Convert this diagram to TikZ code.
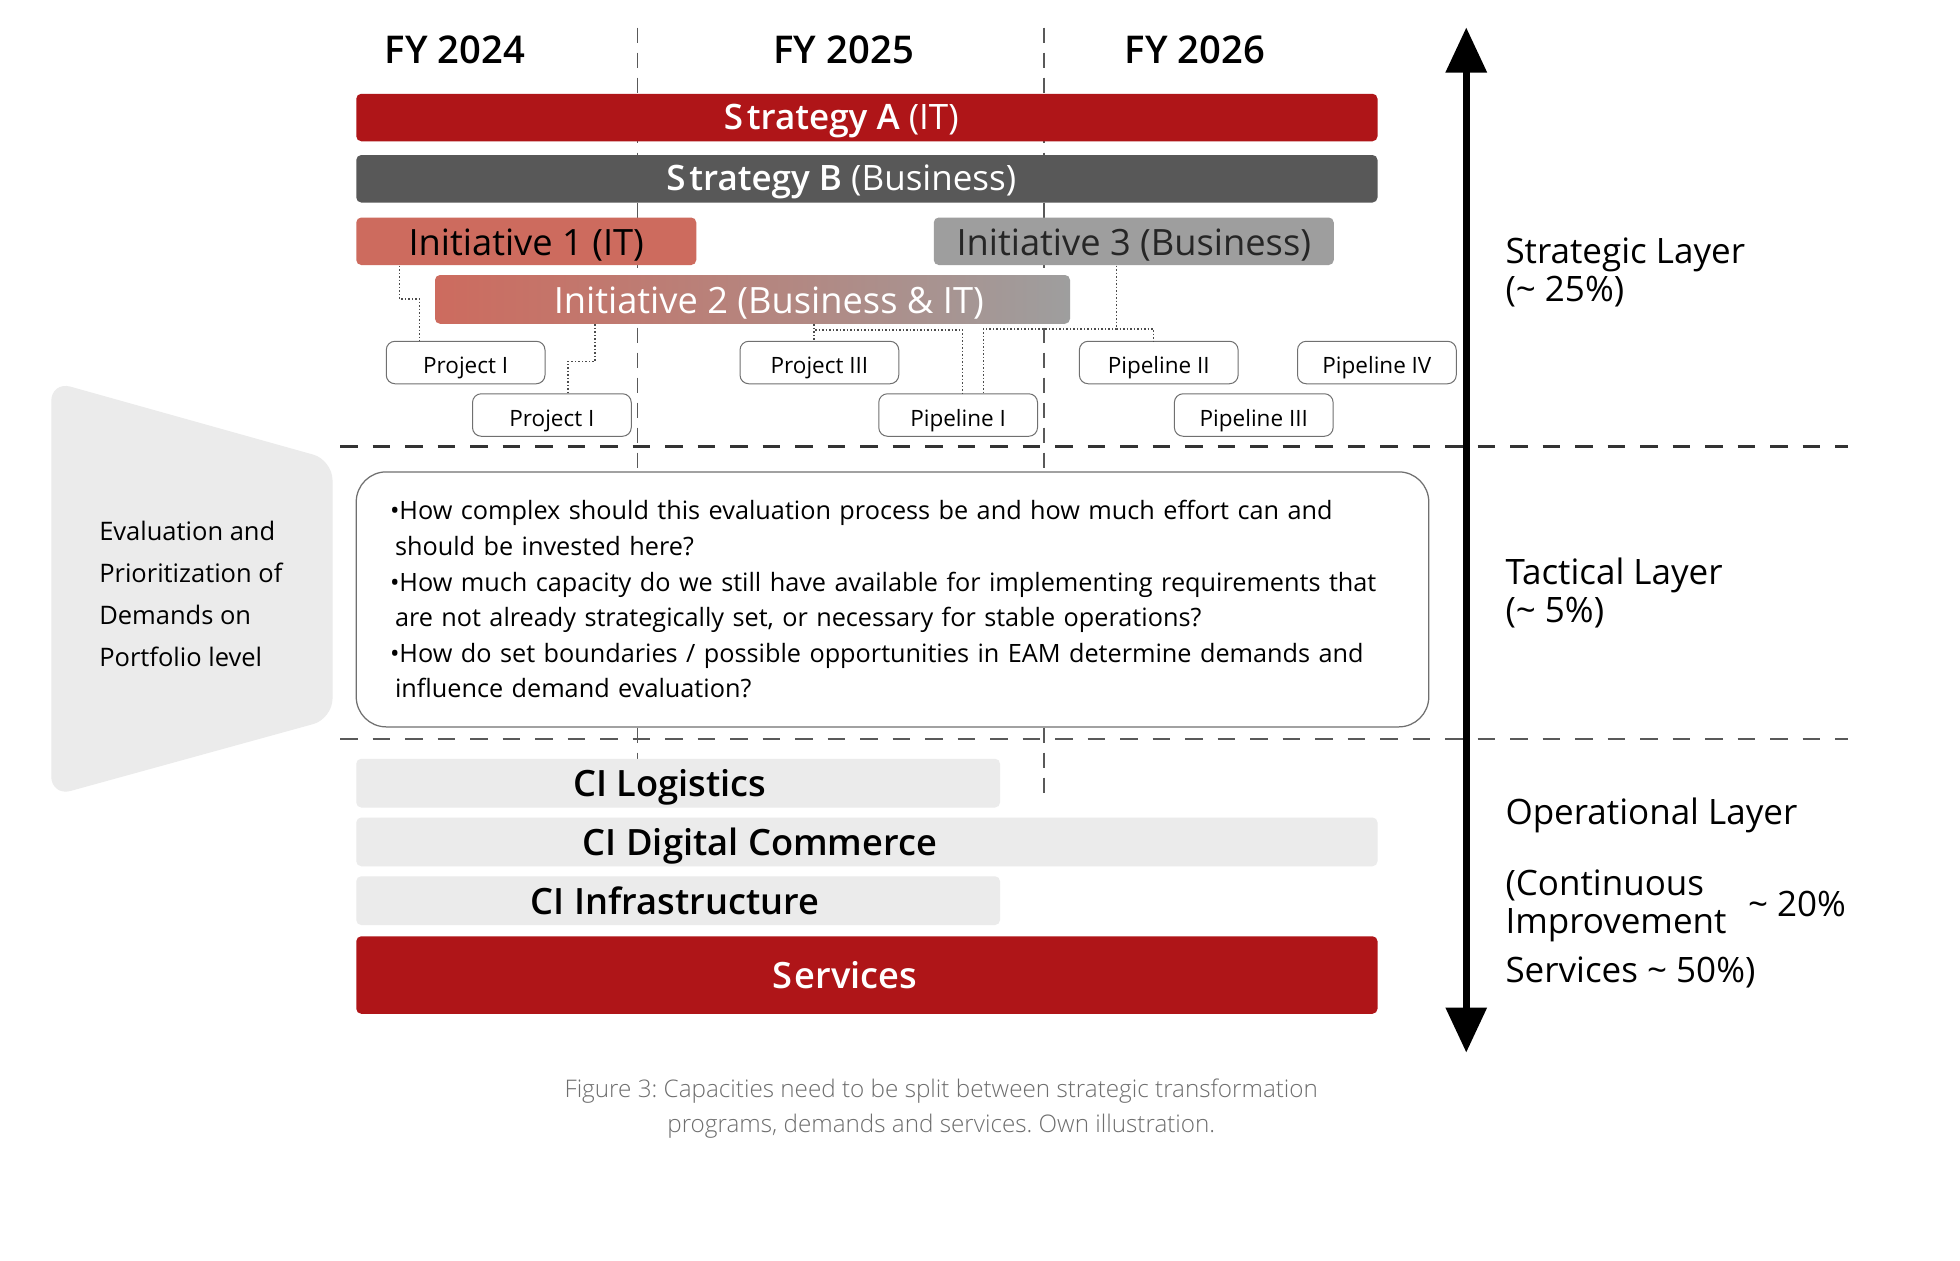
\documentclass[tikz,border=0pt]{standalone}
\usepackage{fontspec}
\setmainfont{Open Sans}
\IfFontExistsTF{Open Sans SemiBold}{\newfontfamily\sembf{Open Sans SemiBold}}{%
  \IfFontExistsTF{Open Sans Semibold}{\newfontfamily\sembf{Open Sans Semibold}}{\newcommand\sembf{\bfseries}}}
\IfFontExistsTF{Open Sans Light}{\newfontfamily\lightf{Open Sans Light}}{\newcommand\lightf{}}
\usetikzlibrary{arrows.meta}
\frenchspacing
\definecolor{redbar}{HTML}{AF1518}
\definecolor{darkbar}{HTML}{585858}
\definecolor{initred}{HTML}{CD6B5E}
\definecolor{initgray}{HTML}{9E9E9E}
\definecolor{lightbar}{HTML}{EBEBEB}
\definecolor{boxline}{HTML}{707070}
\definecolor{capgray}{HTML}{6E6E6E}
\begin{document}
\begin{tikzpicture}[x=0.5pt,y=-0.5pt,
  bar/.style={rectangle, rounded corners=2pt, inner sep=0pt},
  bartext/.style={anchor=base, inner sep=0pt, font=\fontsize{14}{16}\selectfont},
  inittext/.style={anchor=base, inner sep=0pt, font=\fontsize{14.5}{16}\selectfont},
  citext/.style={anchor=base, inner sep=0pt, font=\fontsize{14.5}{16}\selectfont\sembf},
  projbox/.style={rectangle, rounded corners=3.5pt, draw=boxline, line width=0.4pt, fill=white,
     minimum width=63.5pt, minimum height=17pt, inner sep=0pt, text height=11pt, text depth=2.2pt,
     font=\fontsize{9}{11}\selectfont},
  conn/.style={draw=black!70, line width=0.6pt, dash pattern=on 0.6pt off 0.8pt},
  fylabel/.style={font=\fontsize{15.3}{17}\selectfont\sembf, inner sep=0pt},
  vdash/.style={draw=black!65, line width=0.6pt, dash pattern=on 6pt off 4pt},
  layertext/.style={anchor=west, align=left, inner sep=0pt, font=\fontsize{14}{15}\selectfont},
]
\useasboundingbox (0,0) rectangle (1568,1008);
\fill[white] (0,0) rectangle (1568,1008);

% vertical year separators
\coordinate (v1t) at (510,22); \coordinate (v1b) at (510,640);
\coordinate (v2t) at (835,22); \coordinate (v2b) at (835,640);
\draw[vdash] (v1t) -- (v1b);
\draw[vdash] (v2t) -- (v2b);

% horizontal layer separators
\coordinate (h1l) at (272,357); \coordinate (h1r) at (1478,357);
\coordinate (h2l) at (272,591); \coordinate (h2r) at (1478,591);
\draw[black!80, line width=1pt, dash pattern=on 7pt off 6pt] (h1l) -- (h1r);
\draw[black!65, line width=0.6pt, dash pattern=on 7pt off 6pt] (h2l) -- (h2r);

% years
\node[fylabel] (fy24) at (364,40) {FY 2024};
\node[fylabel] (fy25) at (675,40) {FY 2025};
\node[fylabel] (fy26) at (956,40) {FY 2026};

% strategies
\node[bar, fill=redbar, minimum width=408.5pt, minimum height=19pt] (sa) at (693.5,94) {};
\node[bartext, text=white] (saT) at (673,103.5) {{\sembf S\kern1.5pt trategy A} (IT)};
\node[bar, fill=darkbar, minimum width=408.5pt, minimum height=19pt] (sb) at (693.5,143) {};
\node[bartext, text=white] (sbT) at (673,152.5) {{\sembf S\kern1.5pt trategy B} (Business)};

% initiatives
\node[bar, fill=initred, minimum width=136pt, minimum height=19pt] (i1) at (421,193) {};
\node[inittext] (i1T) at (421,204) {Initiative 1 (IT)};
\node[bar, fill=initgray, minimum width=160pt, minimum height=19pt] (i3) at (907,193) {};
\node[inittext, text=black!85] (i3T) at (907,204) {Initiative 3 (Business)};
\node[bar, left color=initred, right color=initgray, minimum width=254pt, minimum height=19.5pt] (i2) at (602,239.5) {};
\node[inittext, text=white] (i2T) at (615,251) {Initiative 2 (Business \& IT)};

% projects / pipelines
\node[projbox] (p1) at (372.5,290) {Project I};
\node[projbox] (p2) at (441.5,332) {Project I};
\node[projbox] (p3) at (655.5,290) {Project III};
\node[projbox] (pl1) at (766.5,332) {Pipeline I};
\node[projbox] (pl2) at (927,290) {Pipeline II};
\node[projbox] (pl4) at (1101.5,290) {Pipeline IV};
\node[projbox] (pl3) at (1003,332) {Pipeline III};

% dotted connectors
\draw[conn] (319.7,0 |- i1.south) |- (335.6,239) -- (335.6,0 |- p1.north);
\draw[conn] (476,0 |- i2.south) |- (454.5,289) -- (454.5,0 |- p2.north);
\draw[conn] (651,0 |- i2.south) -- (651,0 |- p3.north);
\draw[conn] (651,0 |- i2.south) |- (770,264) -- (770,0 |- pl1.north);
\draw[conn] (893,0 |- i3.south) |- (922.6,263) -- (922.6,0 |- pl2.north);
\draw[conn] (893,0 |- i3.south) |- (786.7,263) -- (786.7,0 |- pl1.north);

% evaluation trapezoid
\fill[lightbar, rounded corners=8pt] (41,305) -- (266,368) -- (266,575) -- (41,637) -- cycle;
\node[anchor=west, align=left, inner sep=0pt, font=\fontsize{10.2}{16.8}\selectfont] (eval) at (79,475.5)
  {Evaluation and\\Prioritization of\\Demands on\\Portfolio level};

% tactical box
\node[rectangle, rounded corners=12pt, draw=boxline, line width=0.5pt, fill=white,
  minimum width=429pt, minimum height=102pt, text width=402pt, align=left, inner sep=0pt,
  font=\fontsize{10.1}{14.25}\selectfont] (tac) at (714,479.5)
  {\textbullet How complex should this evaluation process be and how much effort can and\\
   \hspace*{2pt}should be invested here?\\
   \textbullet How much capacity do we still have available for implementing requirements that\\
   \hspace*{2pt}are not already strategically set, or necessary for stable operations?\\
   \textbullet How do set boundaries / possible opportunities in EAM determine demands and\\
   \hspace*{2pt}influence demand evaluation?};

% operational bars
\node[bar, fill=lightbar, minimum width=257.5pt, minimum height=19.5pt] (ci1) at (542.5,626.5) {};
\node[citext] (ci1T) at (536,637.5) {CI Logistics};
\node[bar, fill=lightbar, minimum width=408.5pt, minimum height=19.5pt] (ci2) at (693.5,673.5) {};
\node[citext] (ci2T) at (608,684.5) {CI Digital Commerce};
\node[bar, fill=lightbar, minimum width=257.5pt, minimum height=19.5pt] (ci3) at (542.5,720.5) {};
\node[citext] (ci3T) at (540,731.5) {CI Infrastructure};
\node[bar, fill=redbar, minimum width=408.5pt, minimum height=31pt] (sv) at (693.5,780) {};
\node[citext, text=white] (svT) at (676,790.5) {S\kern1pt ervices};

% big vertical arrow
\coordinate (at) at (1173,22);
\coordinate (ab) at (1173,842);
\draw[line width=2.6pt, {Triangle[length=18pt,width=16pt]}-{Triangle[length=18pt,width=16pt]}] (at) -- (ab);

% layer labels
\node[layertext] (strat) at (1204,218) {Strategic Layer\\(\textasciitilde{} 25\%)};
\node[layertext] (tact) at (1204,474.5) {Tactical Layer\\(\textasciitilde{} 5\%)};
\node[layertext] (oper) at (1204,652) {Operational Layer};
\node[layertext] (ci) at (1204,724.5) {(Continuous\\Improvement};
\node[layertext] (ci20) at (1398,723) {\textasciitilde{} 20\%};
\node[layertext] (serv50) at (1204,778) {Services \textasciitilde{} 50\%)};

% caption
\node[align=center, inner sep=0pt, text=capgray, font=\fontsize{9.7}{14}\selectfont\lightf] (cap) at (753,887)
  {Figure 3: Capacities need to be split between strategic transformation\\programs, demands and services. Own illustration.};
\end{tikzpicture}
\end{document}
